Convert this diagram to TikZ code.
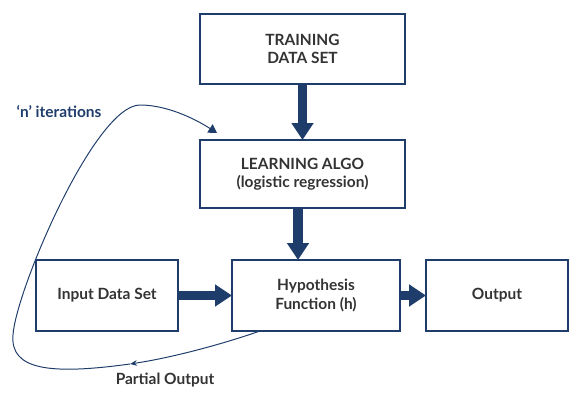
\documentclass[tikz,border=0pt]{standalone}
\usepackage{fontspec}
\setmainfont{Lato}
\usepackage{tikz}
\usetikzlibrary{arrows.meta}
\definecolor{navy}{HTML}{1F3D6B}
\definecolor{boxtext}{HTML}{333333}

\begin{document}
\begin{tikzpicture}[x=0.025cm,y=-0.025cm,
	every node/.style={inner sep=1,outer sep=0,font=\fontsize{11}{13}\selectfont\bfseries},
	box/.style={draw=navy,line width=0.8pt,text=boxtext,align=center},
	fat/.style={navy,line width=7pt,-{Triangle[width=15pt,length=12pt]}},
	loop/.style={navy,line width=0.7pt}]
	\useasboundingbox (0,0) rectangle (580,400);
	% boxes
	\node[box,minimum width=205*0.025cm,minimum height=70*0.025cm] (train) at (302.5,49) {TRAINING\\DATA SET};
	\node[box,minimum width=205*0.025cm,minimum height=68*0.025cm] (learn) at (302.5,174) {LEARNING ALGO\\(logistic regression)};
	\node[box,minimum width=142*0.025cm,minimum height=71*0.025cm] (input) at (107,295.5) {Input Data Set};
	\node[box,minimum width=168*0.025cm,minimum height=71*0.025cm] (hyp) at (316,295.5) {Hypothesis\\Function (h)};
	\node[box,minimum width=142*0.025cm,minimum height=71*0.025cm] (out) at (497,295.5) {Output};
	% labels
	\node[text=navy] (iter) at (59,112) {`n' iterations};
	\node[text=boxtext] (part) at (165,380) {Partial Output};
	% thick arrows
	\draw[fat] (train.south) -- (learn.north);
	\draw[fat] (learn.south -| 298,0) -- (hyp.north -| 298,0);
	\draw[fat] (input.east) -- (hyp.west);
	\draw[fat] (hyp.east) -- (out.west);
	% feedback loop
	\coordinate (pstart) at ([xshift=28*0.025cm]hyp.south west);
	\coordinate (pmid) at (130,364);
	\coordinate (pend) at (217,133);
	\draw[loop,-{Stealth[length=5pt,width=4pt]}] (pstart) .. controls (220,345) and (170,358) .. (pmid);
	\draw[loop,-{Triangle[length=6pt,width=7pt]}] (pmid) .. controls (50,375) and (10,370) .. (13,335)
		.. controls (16,290) and (95,105) .. (140,105)
		.. controls (170,105) and (200,122) .. (pend);
\end{tikzpicture}
\end{document}
